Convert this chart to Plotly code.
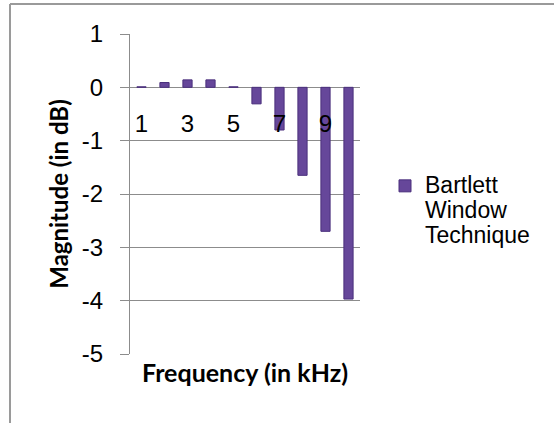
import plotly.graph_objects as go

categories = [1, 2, 3, 4, 5, 6, 7, 8, 9, 10]
magnitude_db = [0.01, 0.09, 0.14, 0.14, 0.01, -0.31, -0.80, -1.65, -2.70, -3.97]
series_lines = ["Bartlett", "Window", "Technique"]
x_tick_labels = ["1", "3", "5", "7", "9"]
y_ticks = [1, 0, -1, -2, -3, -4, -5]

W, H = 554, 423
L, R, T, B = 130, 194, 34, 69
pw, ph = W - L - R, H - T - B

def px_x(px):
    return (px - L) / pw

def px_y(py):
    return (H - B - py) / ph

grid = "#8c8c8c"
series_name = "<br>".join(f'<span style="font-size:23px">{s}</span>' for s in series_lines)

fig = go.Figure()
fig.add_trace(go.Bar(
    x=categories, y=magnitude_db, name=series_name,
    marker=dict(color="#66479a", line=dict(color="#4a2f7c", width=1)),
    showlegend=True,
))

fig.update_layout(
    width=W, height=H,
    margin=dict(l=L, r=R, t=T, b=B, autoexpand=False),
    paper_bgcolor="white", plot_bgcolor="white",
    bargap=0.6,
    font=dict(family="Liberation Sans, Arial, sans-serif", size=24, color="black"),
    xaxis=dict(
        type="linear", range=[0.5, 10.5],
        tickmode="array", tickvals=[1, 3, 5, 7, 9], ticktext=x_tick_labels,
        anchor="free", position=5 / 6,
        showgrid=False, zeroline=False, showline=False, ticks="",
        ticklabelstandoff=20,
        tickfont=dict(size=24, family="Liberation Sans, Arial, sans-serif"),
        title=dict(text="<b>Frequency (in kHz)</b>",
                   font=dict(family="Lato, sans-serif", size=25),
                   standoff=228),
        automargin=False,
    ),
    yaxis=dict(
        range=[-5, 1], tickmode="array", tickvals=y_ticks,
        ticktext=[str(v) for v in y_ticks],
        showgrid=True, gridcolor=grid, gridwidth=1,
        zeroline=False,
        showline=True, linecolor=grid, linewidth=1,
        ticks="outside", ticklen=9, tickcolor=grid, tickwidth=1,
        ticklabelstandoff=12,
        title=dict(text="<b>Magnitude (in dB)</b>",
                   font=dict(family="Lato, sans-serif", size=24),
                   standoff=6),
        automargin=False,
    ),
    legend=dict(
        x=px_x(385), y=px_y(167), xanchor="left", yanchor="top",
        valign="top", bgcolor="rgba(0,0,0,0)",
        font=dict(family="Liberation Sans, Arial, sans-serif", size=19),
    ),
    shapes=[
        dict(type="line", xref="paper", yref="paper",
             x0=px_x(10), x1=px_x(554), y0=px_y(4), y1=px_y(4),
             line=dict(color="#9a9a9a", width=2)),
        dict(type="line", xref="paper", yref="paper",
             x0=px_x(10), x1=px_x(10), y0=px_y(4), y1=px_y(423),
             line=dict(color="#9a9a9a", width=2)),
    ],
)

fig.write_html(
    "out.html",
    config={"displayModeBar": False},
    post_script="document.body.style.margin='0';document.body.style.overflow='hidden';",
)
